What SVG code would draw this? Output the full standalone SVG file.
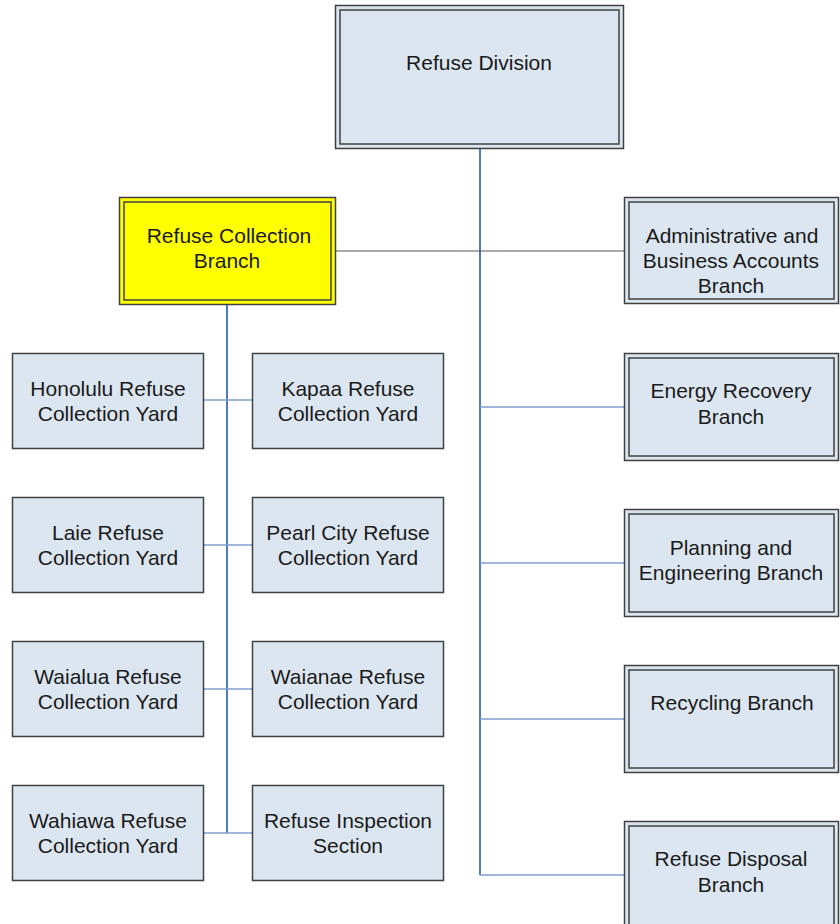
<svg xmlns="http://www.w3.org/2000/svg" width="840" height="924" viewBox="0 0 840 924">
<style>
.box{fill:#dce6f0;stroke:#404040;stroke-width:1.5}
.dbl{fill:none;stroke:#404040;stroke-width:1.5}
.yel{fill:#ffff00;stroke:#404040;stroke-width:1.5}
text{font-family:"Liberation Sans",Arial,sans-serif;font-size:21px;fill:#1a1a1a;text-anchor:middle}
.trunk{stroke:#4f7bbd;stroke-width:2;fill:none}
.br{stroke:#7f9ccd;stroke-width:1.5;fill:none}
.gr{stroke:#555;stroke-width:1.2;fill:none}
</style>
<rect width="840" height="924" fill="#fff"/>
<g id="connectors">
<line class="trunk" x1="480" y1="148" x2="480" y2="875"/>
<line class="gr" x1="335" y1="251" x2="624" y2="251"/>
<line class="br" x1="480" y1="407" x2="624" y2="407"/>
<line class="br" x1="480" y1="563" x2="624" y2="563"/>
<line class="br" x1="480" y1="719" x2="624" y2="719"/>
<line class="br" x1="480" y1="875" x2="624" y2="875"/>
<line class="trunk" x1="227" y1="304" x2="227" y2="833"/>
<line class="br" x1="204" y1="400" x2="252" y2="400"/>
<line class="br" x1="204" y1="545" x2="252" y2="545"/>
<line class="br" x1="204" y1="689" x2="252" y2="689"/>
<line class="br" x1="204" y1="833" x2="252" y2="833"/>
</g>
<g id="refuse-division">
<rect class="box" x="335.5" y="5.5" width="288" height="143"/>
<rect class="dbl" x="340" y="10" width="279" height="134"/>
<text x="479" y="70">Refuse Division</text>
</g>
<g id="refuse-collection-branch">
<rect class="yel" x="119.5" y="197.5" width="216" height="107"/>
<rect class="dbl" x="124" y="202" width="207" height="98"/>
<text x="229" y="243">Refuse Collection</text>
<text x="227" y="268">Branch</text>
</g>
<g id="admin-branch">
<rect class="box" x="624.5" y="197.5" width="214" height="106"/>
<rect class="dbl" x="629" y="202" width="205" height="97"/>
<text x="732" y="243">Administrative and</text>
<text x="731" y="268">Business Accounts</text>
<text x="731" y="293">Branch</text>
</g>
<g id="energy-branch">
<rect class="box" x="624.5" y="353.5" width="214" height="107"/>
<rect class="dbl" x="629" y="358" width="205" height="98"/>
<text x="731" y="398">Energy Recovery</text>
<text x="731" y="424">Branch</text>
</g>
<g id="planning-branch">
<rect class="box" x="624.5" y="509.5" width="214" height="107"/>
<rect class="dbl" x="629" y="514" width="205" height="98"/>
<text x="731" y="555">Planning and</text>
<text x="731" y="580">Engineering Branch</text>
</g>
<g id="recycling-branch">
<rect class="box" x="624.5" y="665.5" width="214" height="107"/>
<rect class="dbl" x="629" y="670" width="205" height="98"/>
<text x="732" y="710">Recycling Branch</text>
</g>
<g id="disposal-branch">
<rect class="box" x="624.5" y="821.5" width="214" height="110"/>
<rect class="dbl" x="629" y="826" width="205" height="110"/>
<text x="731" y="866">Refuse Disposal</text>
<text x="731" y="892">Branch</text>
</g>
<g id="honolulu">
<rect class="box" x="12.5" y="353.5" width="191" height="95"/>
<text x="108" y="396">Honolulu Refuse</text>
<text x="108" y="421">Collection Yard</text>
</g>
<g id="kapaa">
<rect class="box" x="252.5" y="353.5" width="191" height="95"/>
<text x="348" y="396">Kapaa Refuse</text>
<text x="348" y="421">Collection Yard</text>
</g>
<g id="laie">
<rect class="box" x="12.5" y="497.5" width="191" height="95"/>
<text x="108" y="540">Laie Refuse</text>
<text x="108" y="565">Collection Yard</text>
</g>
<g id="pearl-city">
<rect class="box" x="252.5" y="497.5" width="191" height="95"/>
<text x="348" y="540">Pearl City Refuse</text>
<text x="348" y="565">Collection Yard</text>
</g>
<g id="waialua">
<rect class="box" x="12.5" y="641.5" width="191" height="95"/>
<text x="108" y="684">Waialua Refuse</text>
<text x="108" y="709">Collection Yard</text>
</g>
<g id="waianae">
<rect class="box" x="252.5" y="641.5" width="191" height="95"/>
<text x="348" y="684">Waianae Refuse</text>
<text x="348" y="709">Collection Yard</text>
</g>
<g id="wahiawa">
<rect class="box" x="12.5" y="785.5" width="191" height="95"/>
<text x="108" y="828">Wahiawa Refuse</text>
<text x="108" y="853">Collection Yard</text>
</g>
<g id="inspection">
<rect class="box" x="252.5" y="785.5" width="191" height="95"/>
<text x="348" y="828">Refuse Inspection</text>
<text x="348" y="853">Section</text>
</g>
</svg>
